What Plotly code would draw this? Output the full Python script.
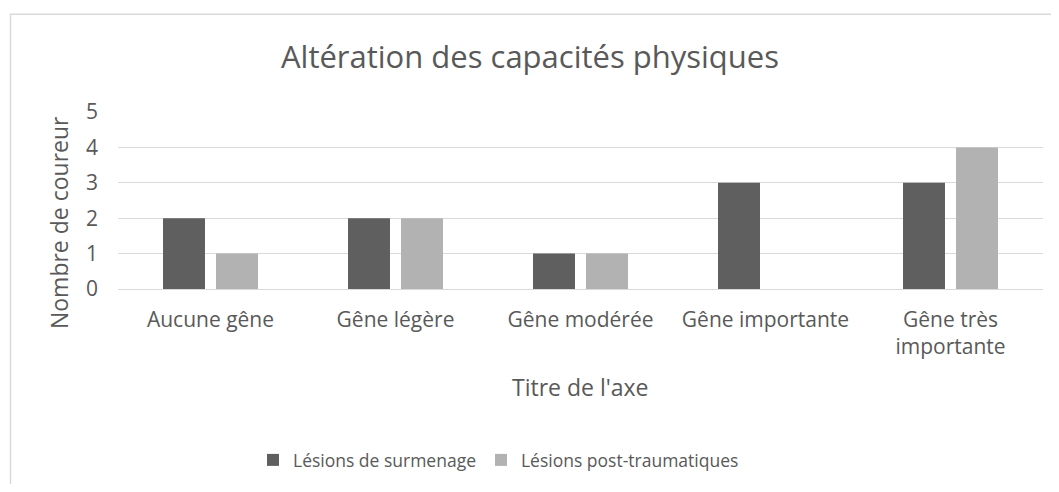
import plotly.graph_objects as go

categories = ["Aucune gêne", "Gêne légère", "Gêne modérée", "Gêne importante", "Gêne très<br>importante"]
surmenage = [2, 2, 1, 3, 3]
post_trauma = [1, 2, 1, 0, 4]
series_names = ["Lésions de surmenage", "Lésions post-traumatiques"]
y_ticks = [0, 1, 2, 3, 4, 5]

FONT = "Open Sans"
TXT = "#595959"
OFF = 8  # default body margin of the html page
W, H = 1059 - 2 * OFF, 492 - 2 * OFF
L, T = 118 - OFF, 112 - OFF
R = W - (1043 - OFF)
B = H - (290.5 - OFF)
pw = W - L - R
ph = H - T - B


def px_x(x):
    """page pixel x -> paper coordinate"""
    return (x - OFF - L) / pw


def px_y(y):
    """page pixel y -> paper coordinate"""
    return (H - B - (y - OFF)) / ph


fig = go.Figure()
fig.add_trace(go.Bar(x=categories, y=surmenage, name=series_names[0],
                     marker=dict(color="#5F5F5F", line=dict(width=0))))
fig.add_trace(go.Bar(x=categories, y=post_trauma, name=series_names[1],
                     marker=dict(color="#B2B2B2", line=dict(width=0))))

fig.update_layout(
    width=W, height=H,
    margin=dict(l=L, r=R, t=T, b=B),
    paper_bgcolor="white", plot_bgcolor="white",
    barmode="group", bargap=0.427, bargroupgap=0.208,
    font=dict(family=FONT, color=TXT, size=20),
    title=dict(text="Altération des capacités physiques", x=(530 - OFF) / W, xanchor="center",
               xref="container", y=1 - (57 - OFF) / H, yanchor="middle", yref="container",
               font=dict(size=31, color=TXT, family=FONT)),
    showlegend=True,
    legend=dict(orientation="h", x=px_x(253), xanchor="left", y=px_y(461), yanchor="middle",
                font=dict(size=17.5, color=TXT), itemwidth=30, traceorder="normal"),
    xaxis=dict(showgrid=False, showline=False, ticks="", tickfont=dict(size=21, color=TXT),
               ticklabelstandoff=16),
    yaxis=dict(range=[0, 5], tickvals=y_ticks, showgrid=True, gridcolor="#D9D9D9", gridwidth=1,
               zeroline=True, zerolinecolor="#D9D9D9", zerolinewidth=1, showline=False,
               ticks="", tickfont=dict(size=21, color=TXT), ticklabelstandoff=19),
    shapes=[dict(type="rect", xref="paper", yref="paper",
                 x0=px_x(10.5), x1=px_x(1075), y0=px_y(520), y1=px_y(13.5),
                 line=dict(color="#D9D9D9", width=1.5), fillcolor="rgba(0,0,0,0)", layer="below")],
    annotations=[
        dict(text="Nombre de coureur", xref="paper", yref="paper", x=px_x(59), y=px_y(224),
             xanchor="center", yanchor="middle", textangle=-90, showarrow=False,
             font=dict(size=23, color=TXT)),
        dict(text="Titre de l'axe", xref="paper", yref="paper", x=px_x(580.5), y=px_y(389),
             xanchor="center", yanchor="middle", showarrow=False,
             font=dict(size=23, color=TXT)),
    ],
)

fig.write_html("out.html")
